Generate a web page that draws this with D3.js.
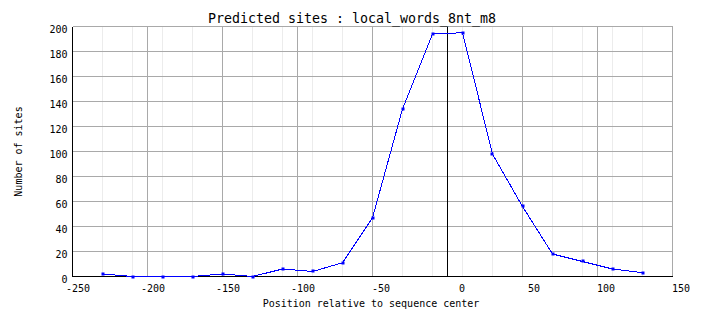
<!DOCTYPE html>
<html>
<head>
<meta charset="utf-8">
<script src="https://cdn.jsdelivr.net/npm/d3@7"></script>
<style>
body { margin:0; background:#fff; }
text { font-family:"DejaVu Sans Mono", monospace; fill:#000; }
</style>
</head>
<body>
<div class="chart"></div>
<script>
// bin centers and counts
var positions = [-230,-210,-190,-170,-150,-130,-110,-90,-70,-50,-30,-10,10,30,50,70,90,110,130];
var sites     = [2,0,0,0,2,0,6,4,11,47,134,194,195,98,56,18,12,6,3];
var xTicks = [-250,-200,-150,-100,-50,0,50,100,150];
var yTicks = [0,20,40,60,80,100,120,140,160,180,200];

var width=704,
    height=328;

var svg = d3.select(".chart").append("svg")
    .attr("width", width)
    .attr("height", height);

var x = d3.scaleLinear().domain([-250,150]).range([72.5,672.5]);
var y = d3.scaleLinear().domain([0,200]).range([276.5,26.5]);

function vline(g, v, color) {
    g.append("line")
        .attr("x1", x(v)).attr("x2", x(v))
        .attr("y1", y(0)).attr("y2", y(200))
        .style("stroke", color)
        .style("shape-rendering","crispEdges");
}
function hline(g, v, color) {
    g.append("line")
        .attr("x1", x(-250)).attr("x2", x(150))
        .attr("y1", y(v)).attr("y2", y(v))
        .style("stroke", color)
        .style("shape-rendering","crispEdges");
}

// minor vertical lines at each bin
var grid = svg.append("g").attr("class","grid");
positions.forEach(function(p){ vline(grid, p, "#ececec"); });

// major grid
xTicks.forEach(function(t){ vline(grid, t, "#a9a9a9"); });
yTicks.forEach(function(t){ hline(grid, t, "#a9a9a9"); });

// center line and axes
var axes = svg.append("g").attr("class","axes");
vline(axes, 0, "#000");
vline(axes, -250, "#000");
hline(axes, 0, "#000");

// tick labels (the axis adds its own half-pixel offset)
var xl = svg.append("g")
    .attr("transform","translate(-0.5,"+y(0)+")")
    .call(d3.axisBottom(x).tickValues(xTicks).tickSize(0).tickFormat(function(d){ return String(d); }));
xl.select(".domain").remove();
xl.selectAll("text")
    .attr("text-anchor","end")
    .attr("x",17.5)
    .attr("y",15.5)
    .attr("dy",null)
    .style("font-size","10px")
    .style("font-family","DejaVu Sans Mono");

var yl = svg.append("g")
    .attr("transform","translate(67.5,-0.5)")
    .call(d3.axisLeft(y).tickValues(yTicks).tickSize(0).tickFormat(function(d){ return String(d); }));
yl.select(".domain").remove();
yl.selectAll("text")
    .attr("x",0)
    .attr("y",6.5)
    .attr("dy",null)
    .style("font-size","10px")
    .style("font-family","DejaVu Sans Mono");

// data line
var line = d3.line()
    .x(function(d,i){ return x(positions[i]); })
    .y(function(d){ return y(d); });

svg.append("path")
    .datum(sites)
    .attr("d", line)
    .style("fill","none")
    .style("stroke","#0000ff")
    .style("stroke-width",1)
    .style("shape-rendering","crispEdges");

svg.selectAll("rect.pt")
    .data(sites)
    .enter().append("rect")
    .attr("class","pt")
    .attr("x", function(d,i){ return Math.round(x(positions[i])) - 1.5; })
    .attr("y", function(d){ return Math.round(y(d)) - 1.5; })
    .attr("width",3)
    .attr("height",3)
    .style("fill","#0000ff");

// titles
svg.append("text")
    .attr("x",352)
    .attr("y",23)
    .attr("text-anchor","middle")
    .style("font-size","13.3px")
    .text("Predicted sites : local_words_8nt_m8");

svg.append("text")
    .attr("x",371)
    .attr("y",307)
    .attr("text-anchor","middle")
    .style("font-size","10px")
    .text("Position relative to sequence center");

svg.append("text")
    .attr("transform","translate(22,151.5) rotate(-90)")
    .attr("text-anchor","middle")
    .style("font-size","10px")
    .text("Number of sites");
</script>
</body>
</html>
